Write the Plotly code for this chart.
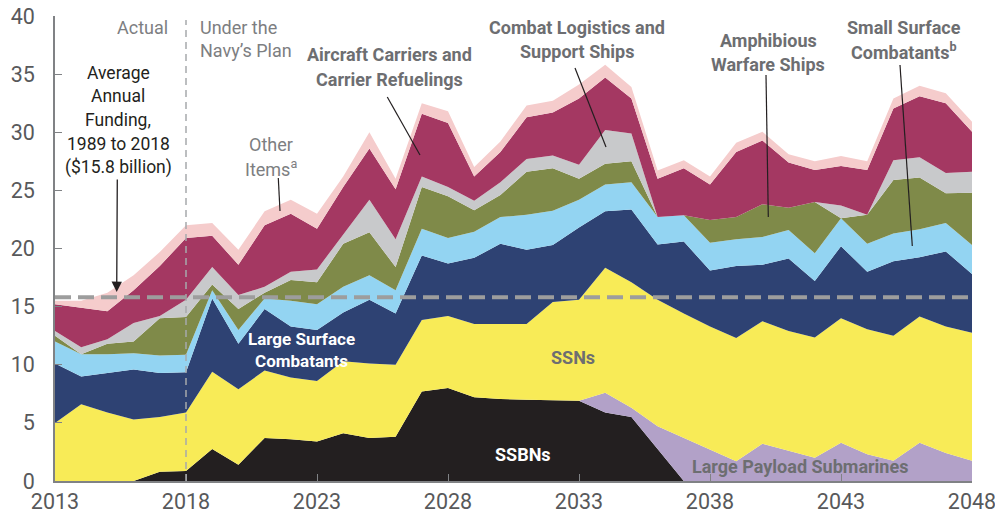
import plotly.graph_objects as go

# --- datos (miles de millones de dólares, por año) ---
YEARS = list(range(2013, 2049))

SSBNS = [0, 0, 0, 0, 0.8, 0.85, 2.75, 1.4, 3.7, 3.6, 3.4, 4.1, 3.7, 3.8, 7.7, 8.0, 7.2, 7.05,
         7.0, 6.95, 6.9, 5.9, 5.5, 2.75, 0, 0, 0, 0, 0, 0, 0, 0, 0, 0, 0, 0]
LARGE_PAYLOAD = [0, 0, 0, 0, 0, 0, 0, 0, 0, 0, 0, 0, 0, 0, 0, 0, 0, 0,
                 0, 0, 0, 1.7, 0.8, 1.95, 3.7, 2.7, 1.7, 3.2, 2.6, 2.0, 3.3, 2.3, 1.75, 3.3, 2.4, 1.75]
SSNS = [5.0, 6.6, 5.9, 5.3, 4.7, 5.05, 6.65, 6.5, 5.8, 5.3, 5.2, 6.2, 6.4, 6.2, 6.15, 6.2, 6.3, 6.45,
        6.5, 8.45, 8.7, 10.75, 10.8, 10.9, 10.7, 10.6, 10.6, 10.55, 10.3, 10.35, 10.7, 10.75, 10.75, 10.85, 10.9, 11.0]
LARGE_SURFACE = [5.1, 2.4, 3.4, 4.3, 3.8, 3.45, 6.3, 3.9, 5.3, 4.4, 4.4, 4.2, 5.5, 4.4, 5.55, 4.5, 5.7, 6.9,
                 6.4, 4.9, 6.2, 4.85, 6.25, 4.75, 6.2, 4.8, 6.2, 4.85, 6.25, 4.85, 6.2, 4.95, 6.4, 5.1, 6.45, 5.05]
SMALL_SURFACE = [1.9, 1.9, 1.6, 1.4, 1.5, 1.5, 0.7, 1.2, 0.9, 2.2, 2.2, 2.2, 2.1, 2.0, 2.3, 2.2, 2.25, 2.3,
                 3.0, 2.95, 2.4, 2.3, 2.35, 2.35, 2.25, 2.4, 2.3, 2.4, 2.45, 2.4, 2.4, 2.4, 2.4, 2.4, 2.45, 2.5]
AMPHIBIOUS = [0.5, 0, 0.9, 1.0, 3.2, 3.25, 0.5, 1.8, 0.5, 1.8, 1.9, 3.7, 3.7, 2.0, 3.6, 3.6, 1.85, 1.9,
              3.7, 3.65, 1.8, 1.8, 1.8, 0, 0, 1.95, 1.9, 2.8, 1.9, 4.4, 0, 2.5, 4.6, 4.45, 2.55, 4.5]
LOGISTICS = [0.4, 0.6, 0.4, 1.6, 0.2, 1.5, 1.5, 1.2, 0.5, 0.7, 1.1, 0.8, 2.8, 2.4, 0.9, 0.8, 0.8, 1.1,
             1.1, 1.1, 1.2, 2.9, 2.4, 0, 0, 0, 0, 0, 0, 0, 1.1, 0, 1.7, 1.75, 1.75, 1.8]
CARRIERS = [2.3, 3.4, 2.4, 2.8, 4.3, 5.3, 2.7, 2.6, 5.3, 5.0, 3.5, 4.1, 4.4, 4.3, 5.4, 5.5, 2.1, 2.6,
            3.6, 3.7, 5.7, 4.5, 3.0, 3.3, 4.05, 3.05, 5.6, 5.5, 3.9, 2.75, 3.4, 3.85, 4.45, 5.25, 6.0, 3.45]
OTHER = [0.3, 0.6, 1.6, 1.3, 1.2, 1.1, 1.1, 1.3, 1.2, 1.2, 1.3, 0.9, 1.4, 0.9, 0.9, 1.0, 0.8, 0.9,
         1.0, 1.0, 1.2, 1.1, 1.0, 0.7, 0.7, 0.7, 0.8, 0.75, 0.7, 0.75, 0.85, 0.75, 0.85, 0.9, 0.85, 0.85]

AVG_FUNDING = 15.8
PLAN_START = 2018

# --- series en orden de apilado (de abajo hacia arriba) ---
SERIES = [
    ('SSBNs', SSBNS, '#231f20'),
    ('Large Payload Submarines', LARGE_PAYLOAD, '#b2a1c8'),
    ('SSNs', SSNS, '#f8eb57'),
    ('Large Surface Combatants', LARGE_SURFACE, '#2e4273'),
    ('Small Surface Combatants', SMALL_SURFACE, '#93d4f2'),
    ('Amphibious Warfare Ships', AMPHIBIOUS, '#7f8a49'),
    ('Combat Logistics and Support Ships', LOGISTICS, '#c8c9cb'),
    ('Aircraft Carriers and Carrier Refuelings', CARRIERS, '#a43862'),
    ('Other Items', OTHER, '#f5cccc'),
]

W, H = 995, 523
ML, MR, MT, MB = 55, 23, 16, 42
FONT = 'Roboto'
GRAY = '#6d6e71'
LIGHT_GRAY = '#7d7e81'


# pixeles de la imagen -> coordenadas 'paper'
def px(x):
    return (x - ML) / (W - ML - MR)


def py(y):
    return (H - MB - y) / (H - MT - MB)


fig = go.Figure()
for name, values, color in SERIES:
    fig.add_trace(go.Scatter(
        x=YEARS, y=values, name=name, mode='lines',
        stackgroup='one', line=dict(width=0, color=color),
        fillcolor=color, showlegend=False, hoverinfo='skip'
    ))


def add_text(lines, x, y0, step, size, color, bold=False, anchor='center'):
    for i, line in enumerate(lines):
        txt = f'<b>{line}</b>' if bold else line
        fig.add_annotation(
            x=px(x), y=py(y0 + i * step), xref='paper', yref='paper',
            text=txt, showarrow=False, xanchor=anchor, yanchor='middle',
            font=dict(family=FONT, size=size, color=color)
        )


def add_pointer(x0, y0, x1, y1):
    fig.add_shape(type='line', xref='paper', yref='paper',
                  x0=px(x0), y0=py(y0), x1=px(x1), y1=py(y1),
                  line=dict(color='#231f20', width=1.2))


# líneas de referencia
fig.add_shape(type='line', xref='x', yref='paper', x0=PLAN_START, x1=PLAN_START,
              y0=0, y1=py(20), line=dict(color='#a7a9ac', width=1.5, dash='7px,5px'))
fig.add_shape(type='line', xref='paper', yref='y', x0=0, x1=px(975),
              y0=AVG_FUNDING, y1=AVG_FUNDING,
              line=dict(color='#9d9d9d', width=4, dash='16px,7px'))

# textos
add_text(['Actual'], 170, 27, 0, 18, LIGHT_GRAY, anchor='right')
add_text(['Under the', 'Navy’s Plan'], 198, 27, 23.5, 18, LIGHT_GRAY, anchor='left')
add_text(['Average', 'Annual', 'Funding,', '1989 to 2018', '($15.8 billion)'],
         118, 73, 23.5, 17.5, '#231f20')
add_text(['Other', 'Items<sup>a</sup>'], 271, 144, 23.5, 18, LIGHT_GRAY)
add_text(['Aircraft Carriers and', 'Carrier Refuelings'], 389, 55, 24, 18, GRAY, bold=True)
add_text(['Combat Logistics and', 'Support Ships'], 577, 27, 24, 18, GRAY, bold=True)
add_text(['Amphibious', 'Warfare Ships'], 768, 40, 24, 18, GRAY, bold=True)
add_text(['Small Surface', 'Combatants<sup>b</sup>'], 904, 27, 24, 18, GRAY, bold=True)
add_text(['Large Surface<br>Combatants'], 246, 350, 0, 17, 'white', bold=True, anchor='left')
add_text(['SSNs'], 573, 357, 0, 18, GRAY, bold=True)
add_text(['SSBNs'], 523, 454, 0, 18, 'white', bold=True)
add_text(['Large Payload Submarines'], 800, 466, 0, 18, GRAY, bold=True)

# líneas indicadoras
add_pointer(278.3, 178, 280, 211)
add_pointer(387.3, 97, 420, 155)
add_pointer(575, 68, 606, 147)
add_pointer(766, 75, 768.3, 217)
add_pointer(900, 65, 912.3, 246)

# flecha del promedio
fig.add_annotation(
    x=px(116.7), y=py(292), xref='paper', yref='paper', text='',
    showarrow=True, axref='pixel', ayref='pixel', ax=0.6, ay=-114,
    arrowhead=2, arrowsize=1.6, arrowwidth=1.3, arrowcolor='#231f20'
)

fig.update_layout(
    width=W, height=H,
    margin=dict(l=ML, r=MR, t=MT, b=MB),
    plot_bgcolor='white', paper_bgcolor='white',
    font=dict(family=FONT),
    showlegend=False,
    xaxis=dict(
        range=[2013, 2048], tick0=2013, dtick=5, showgrid=False, zeroline=False,
        showline=True, linecolor='#808285', linewidth=1.5, automargin=False,
        ticks='inside', ticklen=7, tickcolor='#808285', tickwidth=1.2,
        ticklabeloverflow='allow',
        tickfont=dict(family=FONT, size=21.5, color='#58595b')
    ),
    yaxis=dict(
        range=[0, 40], tick0=0, dtick=5, showgrid=False, zeroline=False,
        showline=True, linecolor='#808285', linewidth=1.5, automargin=False,
        ticks='inside', ticklen=7, tickcolor='#808285', tickwidth=1.2,
        ticklabelstandoff=14, ticklabeloverflow='allow',
        tickfont=dict(family=FONT, size=21.5, color='#58595b')
    ),
)

fig.write_html('out.html', config={'displayModeBar': False},
               post_script="document.body.style.margin='0';document.body.style.overflow='hidden';")
